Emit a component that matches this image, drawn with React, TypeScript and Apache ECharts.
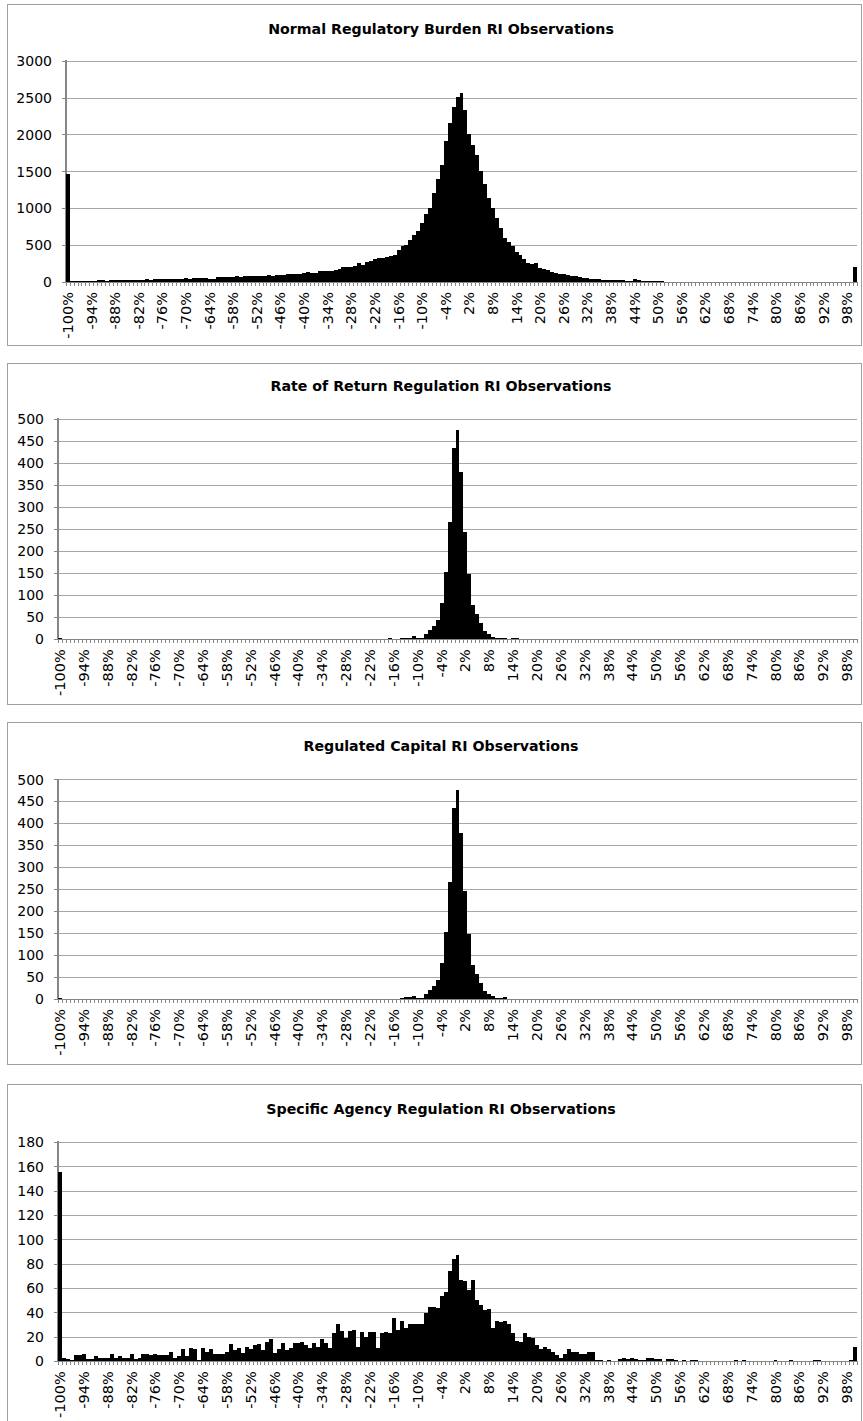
import React, { useEffect, useRef } from "react";
import * as echarts from "echarts";

// Category labels: -100% ... 100% in 1% bins
const categories: string[] = [];
for (let v = -100; v <= 100; v++) categories.push(`${v}%`);

const titles = [
  "Normal Regulatory Burden RI Observations",
  "Rate of Return Regulation RI Observations",
  "Regulated Capital RI Observations",
  "Specific Agency Regulation RI Observations",
];

const normalBurden = [
  1460, 12, 10, 14, 18, 16, 20, 18, 22, 24,
  20, 25, 22, 28, 25, 30, 27, 29, 28, 32,
  35, 33, 36, 34, 38, 36, 40, 38, 42, 45,
  48, 44, 50, 52, 48, 55, 40, 38, 62, 66,
  70, 68, 72, 75, 70, 80, 82, 78, 85, 80,
  88, 90, 85, 95, 100, 98, 102, 105, 110, 115,
  118, 140, 118, 120, 145, 148, 150, 152, 168, 172,
  200, 205, 210, 215, 258, 228, 265, 280, 310, 322,
  332, 345, 359, 368, 436, 491, 505, 564, 632, 686,
  800, 927, 1004, 1209, 1400, 1595, 1913, 2163, 2377, 2513,
  2572, 2332, 2004, 1854, 1718, 1513, 1332, 1141, 1004, 868,
  732, 595, 541, 482, 414, 368, 314, 264, 241, 255,
  195, 175, 160, 140, 125, 108, 104, 98, 85, 80,
  70, 60, 55, 45, 40, 35, 30, 27, 25, 25,
  22, 22, 20, 20, 36, 25, 14, 12, 12, 10,
  8, 7, 6, 5, 5, 4, 4, 3, 3, 2,
  2, 2, 1, 2, 1, 1, 2, 1, 1, 1,
  1, 0, 1, 1, 0, 1, 0, 1, 0, 0,
  1, 0, 0, 1, 0, 0, 0, 1, 0, 0,
  0, 1, 0, 0, 0, 0, 1, 0, 0, 1,
  200,
];

const rateOfReturn = [
  4, 0, 0, 0, 0, 0, 0, 0, 0, 0,
  0, 0, 0, 0, 0, 0, 0, 0, 0, 0,
  0, 0, 0, 0, 0, 0, 0, 0, 0, 0,
  0, 0, 0, 0, 0, 0, 0, 0, 0, 0,
  0, 0, 0, 0, 0, 0, 0, 0, 0, 0,
  0, 0, 0, 0, 0, 0, 0, 0, 0, 0,
  0, 0, 0, 0, 0, 0, 0, 0, 0, 0,
  0, 0, 0, 0, 0, 0, 0, 0, 1, 0,
  0, 1, 0, 2, 1, 0, 3, 4, 4, 7,
  3, 3, 11, 21, 30, 44, 82, 152, 267, 434,
  476, 380, 243, 148, 78, 58, 36, 19, 12, 6,
  3, 2, 4, 1, 2, 3, 1, 1, 1, 0,
  1, 0, 1, 0, 0, 0, 0, 0, 0, 0,
  0, 0, 0, 0, 0, 0, 0, 0, 0, 0,
  0, 0, 0, 0, 0, 0, 0, 0, 0, 0,
  0, 0, 0, 0, 0, 0, 0, 0, 0, 0,
  0, 0, 0, 0, 0, 0, 0, 0, 0, 0,
  0, 0, 0, 0, 0, 0, 0, 0, 0, 0,
  0, 0, 0, 0, 0, 0, 0, 0, 0, 0,
  0, 0, 0, 0, 0, 0, 0, 0, 0, 0,
  0,
];

const regulatedCapital = [
  2, 0, 0, 0, 0, 0, 0, 0, 0, 0,
  0, 0, 0, 0, 0, 0, 0, 0, 0, 0,
  0, 0, 0, 0, 0, 0, 0, 0, 0, 0,
  0, 0, 0, 0, 0, 0, 0, 0, 0, 0,
  0, 0, 0, 0, 0, 0, 0, 0, 0, 0,
  0, 0, 0, 0, 0, 0, 0, 0, 0, 0,
  0, 0, 0, 0, 0, 0, 0, 0, 0, 0,
  0, 0, 0, 0, 0, 0, 0, 0, 1, 0,
  0, 0, 0, 1, 1, 0, 3, 4, 4, 7,
  3, 3, 11, 21, 30, 44, 82, 152, 266, 434,
  475, 378, 245, 148, 78, 58, 36, 19, 12, 6,
  3, 2, 4, 1, 1, 1, 1, 0, 1, 0,
  0, 0, 0, 0, 0, 0, 0, 0, 0, 0,
  0, 0, 0, 0, 0, 0, 0, 0, 0, 0,
  0, 0, 0, 0, 0, 0, 0, 0, 0, 0,
  0, 0, 0, 0, 0, 0, 0, 0, 0, 0,
  0, 0, 0, 0, 0, 0, 0, 0, 0, 0,
  0, 0, 0, 0, 0, 0, 0, 0, 0, 0,
  0, 0, 0, 0, 0, 0, 0, 0, 0, 0,
  0, 0, 0, 0, 0, 0, 0, 0, 0, 0,
  0,
];

const specificAgency = [
  156, 3, 2, 1, 5, 5, 6, 2, 2, 4,
  3, 3, 3, 6, 3, 4, 3, 3, 6, 2,
  3, 6, 6, 5, 6, 5, 5, 5, 8, 3,
  4, 10, 4, 11, 10, 1, 11, 8, 10, 6,
  6, 6, 8, 14, 9, 11, 7, 12, 10, 13,
  14, 9, 16, 18, 7, 10, 15, 9, 11, 15,
  15, 16, 13, 11, 15, 12, 18, 15, 11, 23,
  31, 25, 19, 25, 26, 12, 24, 20, 24, 24,
  11, 23, 24, 23, 36, 26, 33, 27, 31, 31,
  31, 31, 40, 45, 45, 44, 54, 57, 74, 84,
  87, 67, 66, 59, 67, 50, 46, 42, 43, 27,
  33, 32, 33, 31, 23, 17, 16, 23, 20, 19,
  13, 10, 12, 10, 8, 5, 3, 6, 10, 8,
  8, 6, 6, 8, 8, 1, 1, 0, 1, 0,
  0, 2, 3, 2, 3, 2, 1, 1, 3, 3,
  2, 2, 0, 2, 2, 1, 0, 1, 0, 1,
  1, 0, 0, 0, 0, 0, 0, 0, 0, 0,
  1, 0, 1, 0, 0, 0, 0, 0, 0, 0,
  1, 0, 0, 0, 1, 0, 0, 0, 0, 0,
  1, 1, 0, 0, 0, 0, 0, 0, 0, 1,
  12,
];

const seriesData = [normalBurden, rateOfReturn, regulatedCapital, specificAgency];
const yMax = [3000, 500, 500, 180];
const yStep = [500, 50, 50, 20];

// layout (pixels)
const grids = [
  { left: 66, top: 61, width: 791, height: 221 },
  { left: 58, top: 419.3, width: 799, height: 220 },
  { left: 58, top: 779.5, width: 799, height: 219.5 },
  { left: 58, top: 1142.3, width: 799, height: 220.4 },
];
const titleTops = [22, 379, 739, 1102];
const boxes = [
  { y: 4.5, h: 341 },
  { y: 363.5, h: 341 },
  { y: 722.5, h: 342 },
  { y: 1084.5, h: 345 },
];

const AXIS = "#868686";
const GRID = "#a6a6a6";
const FONT = "DejaVu Sans";

export default function App() {
  const ref = useRef<HTMLDivElement>(null);
  useEffect(() => {
    document.body.style.margin = "0";
    const styleEl = document.createElement("style");
    styleEl.textContent = "#chart-root svg path { shape-rendering: crispEdges; }";
    document.head.appendChild(styleEl);
    if (!ref.current) return;
    const chart = echarts.init(ref.current, undefined, { renderer: "svg" });
    const option: any = {
      animation: false,
      backgroundColor: "#fff",
      title: titles.map((t, i) => ({
        text: t,
        left: 441,
        top: titleTops[i],
        textAlign: "center",
        padding: 0,
        textStyle: { fontFamily: FONT, fontSize: 14.2, fontWeight: "bold", color: "#000" },
      })),
      graphic: boxes.map((b) => ({
        type: "rect",
        silent: true,
        z: -10,
        shape: { x: 7.5, y: b.y, width: 854, height: b.h },
        style: { fill: "none", stroke: "#a0a0a0", lineWidth: 1 },
      })),
      grid: grids.map((g) => ({ ...g })),
      xAxis: grids.map((_, i) => ({
        type: "category",
        gridIndex: i,
        data: categories,
        boundaryGap: true,
        axisLine: { show: true, lineStyle: { color: AXIS, width: 1 } },
        axisTick: { show: true, interval: 0, length: 4, lineStyle: { color: AXIS } },
        axisLabel: {
          interval: 5,
          rotate: 90,
          margin: 10,
          fontFamily: FONT,
          fontSize: 14.5,
          color: "#000",
        },
        splitLine: { show: false },
      })),
      yAxis: grids.map((_, i) => ({
        type: "value",
        gridIndex: i,
        min: 0,
        max: yMax[i],
        interval: yStep[i],
        axisLine: { show: true, lineStyle: { color: AXIS, width: 2 } },
        axisTick: { show: true, length: 4, lineStyle: { color: AXIS } },
        axisLabel: {
          margin: 14,
          fontFamily: FONT,
          fontSize: 14,
          color: "#000",
          formatter: (v: number) => String(v),
        },
        splitLine: { show: true, lineStyle: { color: GRID, width: 1 } },
      })),
      series: seriesData.map((d, i) => ({
        type: "bar",
        xAxisIndex: i,
        yAxisIndex: i,
        data: d,
        barCategoryGap: "0%",
        itemStyle: { color: "#000" },
      })),
    };
    chart.setOption(option);
    return () => {
      chart.dispose();
      styleEl.remove();
    };
  }, []);
  return (
    <div
      id="chart-root"
      ref={ref}
      style={{ position: "absolute", left: 0, top: 0, width: 863, height: 1421 }}
    />
  );
}
